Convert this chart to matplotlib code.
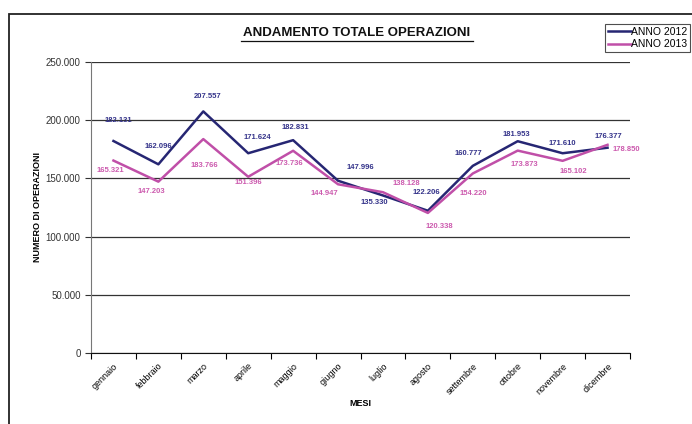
import matplotlib.pyplot as plt
from matplotlib.patches import Rectangle
from matplotlib.ticker import FuncFormatter

MESI = ['gennaio', 'febbraio', 'marzo', 'aprile', 'maggio', 'giugno',
        'luglio', 'agosto', 'settembre', 'ottobre', 'novembre', 'dicembre']
ANNO_2012 = [182131, 162096, 207557, 171624, 182831, 147996,
             135330, 122206, 160777, 181953, 171610, 176377]
ANNO_2013 = [165321, 147203, 183766, 151396, 173736, 144947,
             138128, 120338, 154220, 173873, 165102, 178850]

# label offsets in pixels (dx, dy), as placed in the original sheet
OFF_2012 = [(5, 20), (0, 18), (4, 15), (9, 16), (2, 13), (22, 13),
            (-9, -7), (-2, 18), (-4, 12), (-1, 7), (0, 10), (1, 11)]
OFF_2013 = [(-3, -10), (-7, -10), (1, -26), (0, -6), (-4, -13), (-14, -9),
            (23, 9), (11, -14), (1, -20), (7, -14), (11, -11), (19, -5)]

C12 = '#262673'
C13 = '#c04fa8'
FONT = 'Liberation Sans'

plt.rcParams['font.family'] = FONT

fig = plt.figure(figsize=(6.92, 4.24), dpi=100)
fig.patches.append(Rectangle((9 / 692, -0.2), 1.2, 1 - 14 / 424 + 0.2,
                             transform=fig.transFigure, fill=False,
                             edgecolor='#222222', linewidth=1.3))

ax = fig.add_axes([91 / 692, 1 - 353 / 424, 539 / 692, 291 / 424])
x = range(len(MESI))
ax.plot(x, ANNO_2012, color=C12, lw=1.8, label='ANNO 2012')
ax.plot(x, ANNO_2013, color=C13, lw=1.8, label='ANNO 2013')

def fmt(v):
    return f'{v:,}'.replace(',', '.')

for i, v in enumerate(ANNO_2012):
    ax.annotate(fmt(v), (i, v), xytext=OFF_2012[i], textcoords='offset pixels',
                ha='center', va='center', fontsize=5.5, fontweight='bold', color='#34338a')
for i, v in enumerate(ANNO_2013):
    ax.annotate(fmt(v), (i, v), xytext=OFF_2013[i], textcoords='offset pixels',
                ha='center', va='center', fontsize=5.5, fontweight='bold', color='#cc5aae')

ax.set_xlim(-0.5, 11.5)
ax.set_ylim(0, 250000)
ax.set_yticks(range(0, 250001, 50000))
ax.yaxis.set_major_formatter(FuncFormatter(lambda v, p: fmt(int(v))))
ax.set_xticks(list(x))
ax.set_xticklabels(MESI, rotation=45, ha='right', rotation_mode='anchor', fontsize=6.5)
ax.set_xticks([i - 0.5 for i in range(13)], minor=True)
ax.tick_params(axis='x', which='major', length=0, pad=6)
ax.tick_params(axis='x', which='minor', length=4, width=0.8, direction='out')
ax.tick_params(axis='y', length=4, width=0.8, labelsize=7, colors='#333333')
ax.grid(axis='y', color='#333333', lw=0.9)
for s in ['top', 'right']:
    ax.spines[s].set_visible(False)
ax.spines['left'].set_color('#777777')
ax.spines['bottom'].set_color('#111111')

ax.set_xlabel('MESI', fontsize=6.5, fontweight='bold', labelpad=2)
ax.set_ylabel('NUMERO DI OPERAZIONI', fontsize=6.5, fontweight='bold', labelpad=3)

fig.text(357 / 692, 1 - 33 / 424, 'ANDAMENTO TOTALE OPERAZIONI', ha='center', va='center',
         fontsize=9.5, fontweight='bold', color='#111111')
fig.add_artist(plt.Line2D([241 / 692, 473 / 692], [1 - 40.5 / 424] * 2,
                          transform=fig.transFigure, color='#111111', lw=0.9))

leg = fig.legend(loc='upper left', bbox_to_anchor=(605 / 692, 1 - 24 / 424), fontsize=7.5,
                 frameon=True, fancybox=False, edgecolor='#222222', handlelength=2.2,
                 handletextpad=0.05, borderpad=0.25, labelspacing=0.25, borderaxespad=0)
leg.get_frame().set_linewidth(0.8)

fig.savefig('out.png', dpi=100)
